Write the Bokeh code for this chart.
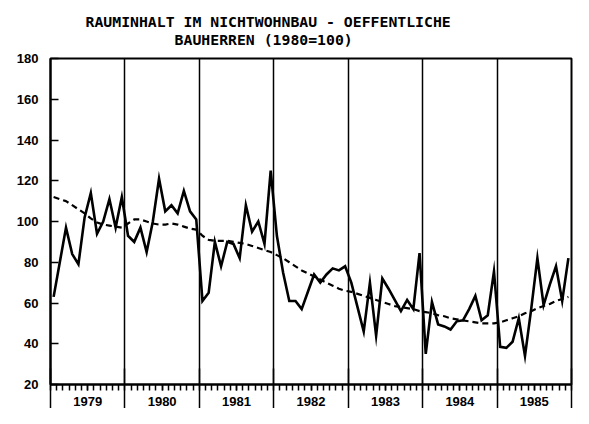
from bokeh.plotting import figure
from bokeh.models import Range1d, FixedTicker, Title, LinearAxis, ColumnDataSource
from bokeh.embed import file_html
from bokeh.resources import INLINE

years = [1979, 1980, 1981, 1982, 1983, 1984, 1985]

actual_1979 = [63, 80, 97, 84, 79, 102, 114, 94, 100, 111, 97, 112]
actual_1980 = [93, 90, 97, 85, 100, 121, 105, 108, 104, 115, 105, 101]
actual_1981 = [61, 65, 90, 78, 90, 89, 82, 108, 95, 100, 89, 125]
actual_1982 = [93, 75, 61, 61, 57, 65.5, 74, 70, 74, 77, 76, 78]
actual_1983 = [70, 58, 46, 70, 44, 72, 67, 61.5, 56, 61.5, 57, 84.5]
actual_1984 = [35, 60.5, 49.5, 48.5, 47, 51, 51.5, 57, 63.5, 51.5, 54, 75.5]
actual_1985 = [38.5, 38, 41, 52.5, 34, 57, 82, 59, 69, 78, 61, 82]

trend_1979 = [112, 111, 110, 108, 106, 104, 101.5, 99.5, 98.5, 98, 97.5, 97]
trend_1980 = [99, 101, 101, 100, 99, 98.5, 98.5, 99, 98.5, 97.5, 96.5, 96]
trend_1981 = [93, 91, 90.5, 90.5, 90.5, 90, 89.5, 89, 88, 87, 86, 85]
trend_1982 = [83.5, 82, 80, 78, 76, 74.5, 73, 71.5, 70, 68.5, 67, 66]
trend_1983 = [65.5, 64.5, 63.5, 62.5, 61.5, 60.5, 59.5, 58.5, 58, 57.5, 57, 56]
trend_1984 = [55.5, 55, 54, 53.5, 52.5, 52, 51.5, 51, 50.5, 50, 50, 50]
trend_1985 = [50.5, 51.5, 52.5, 53.5, 55, 56, 57.5, 58.5, 59.5, 61, 62, 63]

y_ticks = [20, 40, 60, 80, 100, 120, 140, 160, 180]
title_line1 = "RAUMINHALT IM NICHTWOHNBAU - OEFFENTLICHE"
title_line2 = "BAUHERREN (1980=100)"

actual = (actual_1979 + actual_1980 + actual_1981 + actual_1982 +
          actual_1983 + actual_1984 + actual_1985)
trend = (trend_1979 + trend_1980 + trend_1981 + trend_1982 +
         trend_1983 + trend_1984 + trend_1985)
n = len(actual)
months = [i + 0.5 for i in range(n)]

src = ColumnDataSource(dict(x=months, actual=actual, trend=trend))

p = figure(width=573, height=408, output_backend="svg", toolbar_location=None,
           x_range=Range1d(0, n), y_range=Range1d(20, 180),
           min_border_left=50, min_border_right=2, min_border_top=10,
           min_border_bottom=10)
p.background_fill_color = "white"
p.border_fill_color = "white"
p.outline_line_color = "black"
p.outline_line_width = 2

p.line("x", "actual", source=src, line_color="black", line_width=2.6,
       line_join="miter")
p.line("x", "trend", source=src, line_color="black", line_width=2.2,
       line_dash="6 4")

year_bounds = [12 * i for i in range(len(years) + 1)]
year_centers = [12 * i + 6 for i in range(len(years))]

# axis 1 (closest to frame): month ticks + year labels
xax = p.xaxis[0]
xax.ticker = FixedTicker(ticks=year_centers, minor_ticks=list(range(n + 1)))
xax.major_label_overrides = {c: str(y) for c, y in zip(year_centers, years)}
xax.major_label_text_font = "Liberation Sans"
xax.major_label_text_font_style = "bold"
xax.major_label_text_font_size = "13px"
xax.major_label_text_color = "black"
xax.major_label_standoff = 6
xax.major_tick_in = 0
xax.major_tick_out = 6
xax.major_tick_line_width = 1.5
xax.minor_tick_in = 0
xax.minor_tick_out = 6
xax.minor_tick_line_width = 1.5
xax.axis_line_width = 2

# axis 2 (below axis 1): long year-boundary ticks reaching up to the frame
ax2 = LinearAxis(ticker=FixedTicker(ticks=year_bounds, minor_ticks=[]))
ax2.major_label_overrides = {b: "" for b in year_bounds}
ax2.major_label_text_font_size = "1px"
ax2.major_label_standoff = 0
ax2.major_tick_in = 40
ax2.major_tick_out = 0
ax2.major_tick_line_width = 1.5
ax2.axis_line_color = None
p.add_layout(ax2, "below")

yax = p.yaxis[0]
yax.ticker = FixedTicker(ticks=y_ticks)
yax.major_tick_in = 8
yax.major_tick_out = 0
yax.major_tick_line_width = 1.5
yax.minor_tick_line_color = None
yax.axis_line_width = 2
yax.major_label_standoff = 12
yax.major_label_text_font = "Liberation Sans"
yax.major_label_text_font_style = "bold"
yax.major_label_text_font_size = "13px"
yax.major_label_text_color = "black"

p.xgrid.ticker = FixedTicker(ticks=year_bounds[1:-1])
p.xgrid.grid_line_color = "black"
p.xgrid.grid_line_width = 1.5
p.ygrid.visible = False

# two-line title; second line indented with non-breaking spaces (monospace)
title_text = title_line1 + "\n" + "\u00a0" * 10 + title_line2
tkw = dict(text=title_text, align="left", offset=35,
           text_font="DejaVu Sans Mono", text_font_style="bold",
           text_font_size="14.8px", text_color="black")
if "standoff" in Title.properties():
    tkw["standoff"] = 20
if "text_line_height" in Title.properties():
    tkw["text_line_height"] = 1.1
p.add_layout(Title(**tkw), "above")

open("out.html", "w").write(file_html(p, INLINE))
